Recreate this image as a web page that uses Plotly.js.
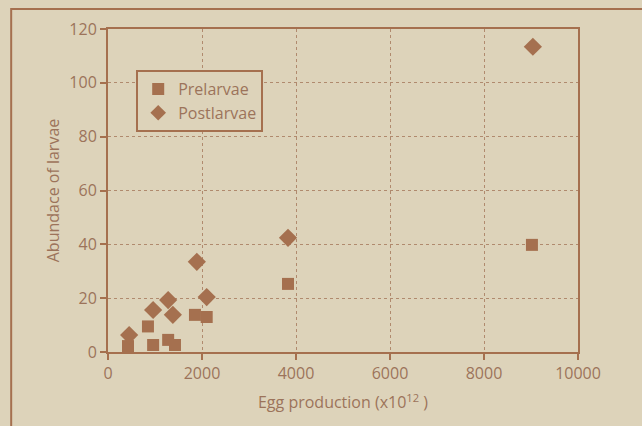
<!DOCTYPE html>
<html>
<head>
<meta charset="utf-8">
<script src="https://cdn.plot.ly/plotly-3.0.1.min.js"></script>
<style>html,body{margin:0;padding:0;background:#ddd3ba;}</style>
</head>
<body>
<div id="chart" style="width:642px;height:426px;"></div>
<script>
const preEgg = [425, 850, 960, 1280, 1425, 1850, 2100, 3830, 9020];
const preAbund = [2.2, 9.5, 2.6, 4.5, 2.6, 13.8, 13.0, 25.3, 39.8];
const postEgg = [450, 960, 1280, 1380, 1890, 2100, 3830, 9040];
const postAbund = [6.3, 15.6, 19.3, 13.8, 33.5, 20.4, 42.4, 113.4];
const xTicks = [0, 2000, 4000, 6000, 8000, 10000];
const yTicks = [0, 20, 40, 60, 80, 100, 120];

const brown = '#a5704f';
const textBrown = '#9c735a';
const bg = '#ddd3ba';

const data = [
  {x: preEgg, y: preAbund, name: 'Prelarvae', type: 'scatter', mode: 'markers',
   marker: {symbol: 'square', size: 12, color: brown}},
  {x: postEgg, y: postAbund, name: 'Postlarvae', type: 'scatter', mode: 'markers',
   marker: {symbol: 'diamond', size: 14, color: brown}}
];

const layout = {
  width: 642, height: 426,
  paper_bgcolor: bg, plot_bgcolor: bg,
  margin: {l: 108, r: 64, t: 29, b: 74},
  font: {family: 'Open Sans, sans-serif', color: textBrown, size: 16},
  showlegend: true,
  legend: {x: 0.06, y: 0.873, xanchor: 'left', yanchor: 'top',
    bgcolor: bg, bordercolor: brown, borderwidth: 2,
    font: {size: 16, color: textBrown}, itemsizing: 'constant', tracegroupgap: 0},
  xaxis: {
    range: [0, 10000], tickvals: xTicks, ticktext: xTicks.map(String),
    showgrid: true, gridcolor: '#b08a6e', griddash: 'dot', gridwidth: 1,
    zeroline: false, showline: true, linecolor: brown, linewidth: 2, mirror: true,
    ticks: 'outside', ticklen: 6, tickcolor: brown, tickwidth: 2,
    tickfont: {size: 16, color: textBrown},
    title: {text: 'Egg production (x10<sup>12</sup> )', font: {size: 16, color: textBrown}, standoff: 14}
  },
  yaxis: {
    range: [0, 120], tickvals: yTicks, ticktext: yTicks.map(String),
    showgrid: true, gridcolor: '#b08a6e', griddash: 'dot', gridwidth: 1,
    zeroline: false, showline: true, linecolor: brown, linewidth: 2, mirror: true,
    ticks: 'outside', ticklen: 6, tickcolor: brown, tickwidth: 2,
    tickfont: {size: 16, color: textBrown},
    title: {text: 'Abundace of larvae', font: {size: 16, color: textBrown}, standoff: 6}
  },
  shapes: [
    {type: 'rect', xref: 'paper', yref: 'paper', x0: -0.206, x1: 1.2, y0: -0.25, y1: 1.062,
     line: {color: brown, width: 2}, fillcolor: 'rgba(0,0,0,0)', layer: 'below'}
  ]
};

Plotly.newPlot('chart', data, layout, {displayModeBar: false, staticPlot: true});
</script>
</body>
</html>
